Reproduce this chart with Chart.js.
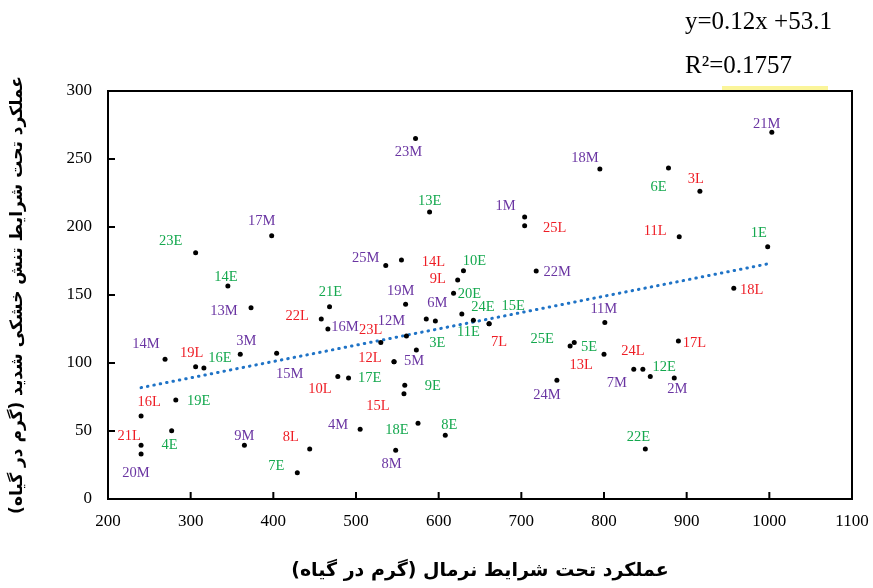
<!DOCTYPE html>
<html>
<head>
<meta charset="utf-8">
<script src="https://cdn.jsdelivr.net/npm/chart.js@4.4.1/dist/chart.umd.min.js"></script>
<style>
    body { margin: 0; background: #fff; }
    #wrap { position: relative; width: 873px; height: 588px; }
    .eq { position: absolute; left: 685px; font-family: 'Liberation Serif', serif; font-size: 25px; color: #000; line-height: 1; }
    #marca { position: absolute; left: 722px; top: 86px; width: 106px; height: 4px; background: #fbf59a; }
</style>
</head>
<body>
<div id="wrap">
    <canvas id="chartDispersion" width="873" height="588"></canvas>
    <div class="eq" style="top:8px">y=0.12x +53.1</div>
    <div class="eq" style="top:52px">R²=0.1757</div>
    <div id="marca"></div>
</div>
<script>
// genotipos (etiqueta de cada punto)
const genotipos = ['21M','23M','18M','6E','3L','13E','1M','25L','17M','11L','1E','23E','25M','14L','14E','22M','10E','9L','20E','21E',
    '19M','18L','6M','','24E','11E','7L','15E','22L','13M','11M','16M','23L','12M','3E','14M','3M','19L','16E','15M',
    '12L','5M','25E','13L','5E','7M','24L','12E','2M','17L','10L','17E','16L','19E','9E','15L','24M','4M','18E','8E',
    '21L','20M','4E','9M','8L','22E','7E','8M'];

// rendimiento en condiciones normales (eje x)
const rendNormal = [1003, 572, 795, 878, 916, 589, 704, 704, 398, 891, 998, 306, 536, 555, 345, 718, 630, 623, 618, 468,
    560, 957, 585, 596, 628, 642, 661, 661, 458, 373, 801, 466, 530, 561, 573, 269, 360, 306, 316, 404,
    546, 546, 759, 764, 800, 836, 847, 856, 885, 890, 478, 491, 240, 282, 559, 558, 743, 505, 575, 608,
    240, 240, 277, 365, 444, 850, 429, 548];

// rendimiento bajo estrés severo (eje y)
const rendEstres = [269.6, 265, 242.6, 243.4, 226.2, 211, 207.4, 201, 193.6, 192.9, 185.5, 181.1, 171.6, 175.7, 156.6, 167.6, 167.9, 161, 151.2, 141.4,
    143.2, 154.9, 132.4, 130.9, 136, 131.4, 128.9, 128.9, 132.4, 140.7, 129.7, 125, 115, 119.9, 109.6, 102.7, 106.4, 97.3, 96.3, 107.1,
    101, 101, 112.5, 115, 106.4, 95.4, 95.4, 90, 89, 116.2, 90, 89, 61, 72.8, 83.6, 77.4, 87.3, 51.2, 55.7, 46.8,
    39.5, 33.1, 50.2, 39.5, 36.8, 36.8, 19.3, 35.8];

// recta de regresion
const pendiente = 0.12;
const intercepto = 53.1;

const ticksX = [200, 300, 400, 500, 600, 700, 800, 900, 1000, 1100];
const ticksY = [0, 50, 100, 150, 200, 250, 300];

const tituloX = '\u202Bعملکرد تحت شرایط نرمال (گرم در گیاه)\u202C';
const tituloY = '\u202Bعملکرد تحت شرایط تنش خشکی شدید (گرم در گیاه)\u202C';

// desplazamiento de cada etiqueta respecto a su punto, en pixeles
const desplazamiento = {
    '21M':[-5,-8], '23M':[-7,14], '18M':[-15,-11], '6E':[-10,19], '3L':[-4,-12], '13E':[0,-11], '1M':[-19,-11], '25L':[30,3],
    '17M':[-10,-15], '11L':[-24,-5], '1E':[-9,-14], '23E':[-25,-12], '25M':[-20,-7], '14L':[32,2], '14E':[-2,-9], '22M':[21,1],
    '10E':[11,-9], '9L':[-20,-1], '20E':[16,1], '21E':[1,-15], '19M':[-5,-13], '18L':[18,2], '6M':[11,-16], '24E':[21,-7],
    '11E':[-5,12], '7L':[10,18], '15E':[24,-18], '22L':[-24,-3], '13M':[-27,4], '11M':[-1,-13], '16M':[17,-2], '23L':[-10,-12],
    '12M':[-15,-15], '3E':[21,-7], '14M':[-19,-15], '3M':[6,-13], '19L':[-4,-13], '16E':[16,-10], '15M':[13,21], '12L':[-24,-3],
    '5M':[20,0], '25E':[-28,-7], '13L':[7,23], '5E':[-15,-7], '7M':[-17,14], '24L':[-10,-18], '12E':[14,-9], '2M':[3,11],
    '17L':[16,2], '10L':[-18,13], '17E':[21,0], '16L':[8,-14], '19E':[23,1], '9E':[28,1], '15L':[-26,12], '24M':[-10,15],
    '4M':[-22,-4], '18E':[-21,7], '8E':[4,-10], '21L':[-12,-9], '20M':[-5,19], '4E':[-2,14], '9M':[0,-9], '8L':[-19,-12],
    '22E':[-7,-12], '7E':[-21,-7], '8M':[-4,14]
};

const colorGrupo = { E: '#14a84e', L: '#ee1d25', M: '#6a35a2' };

const puntos = rendNormal.map((x, i) => ({ x: x, y: rendEstres[i] }));
const xMin = Math.min(...rendNormal);
const xMax = Math.max(...rendNormal);
const recta = [xMin, xMax].map(x => ({ x: x, y: pendiente * x + intercepto }));

// etiquetas de genotipo junto a cada punto
const pluginEtiquetas = {
    id: 'etiquetas',
    afterDatasetsDraw(chart) {
        const ctx = chart.ctx;
        const meta = chart.getDatasetMeta(0);
        ctx.save();
        ctx.font = '14.5px "Liberation Serif", serif';
        ctx.textAlign = 'center';
        ctx.textBaseline = 'middle';
        meta.data.forEach((p, i) => {
            const nombre = genotipos[i];
            if (!nombre) return;
            const d = desplazamiento[nombre] || [0, -10];
            ctx.fillStyle = colorGrupo[nombre.slice(-1)];
            ctx.fillText(nombre, p.x + d[0], p.y + d[1]);
        });
        ctx.restore();
    }
};

// marco completo del area de trazado y marcas de division hacia dentro
const pluginMarco = {
    id: 'marco',
    afterDraw(chart) {
        const { ctx, chartArea: a, scales } = chart;
        ctx.save();
        ctx.strokeStyle = '#000';
        ctx.lineWidth = 2;
        ctx.strokeRect(a.left, a.top, a.right - a.left, a.bottom - a.top);
        ctx.beginPath();
        ticksX.forEach(v => {
            const px = scales.x.getPixelForValue(v);
            ctx.moveTo(px, a.bottom);
            ctx.lineTo(px, a.bottom - 7);
        });
        ticksY.forEach(v => {
            const py = scales.y.getPixelForValue(v);
            ctx.moveTo(a.left, py);
            ctx.lineTo(a.left + 7, py);
        });
        ctx.stroke();
        ctx.restore();
    }
};

new Chart(document.getElementById('chartDispersion'), {
    type: 'scatter',
    data: {
        datasets: [{
            data: puntos,
            backgroundColor: '#000',
            borderColor: '#000',
            pointRadius: 2.5,
            pointBorderWidth: 0
        }, {
            data: recta,
            showLine: true,
            borderColor: '#1f73c6',
            borderWidth: 3,
            borderDash: [0.5, 6],
            borderCapStyle: 'round',
            pointRadius: 0
        }]
    },
    options: {
        responsive: false,
        animation: false,
        layout: { padding: { left: 0, right: 0, top: 91, bottom: 0 } },
        plugins: { legend: { display: false }, tooltip: { enabled: false } },
        scales: {
            x: {
                type: 'linear',
                min: 200, max: 1100,
                afterFit: s => { s.height = 89; s.paddingRight = 21; s.paddingLeft = 0; },
                afterBuildTicks: s => { s.ticks = ticksX.map(v => ({ value: v })); },
                grid: { drawOnChartArea: false, drawTicks: false },
                border: { color: '#000', width: 2 },
                ticks: {
                    color: '#000', padding: 12,
                    font: { family: 'Liberation Serif', size: 17 },
                    callback: v => String(v)
                },
                title: {
                    display: true, text: tituloX, color: '#000',
                    padding: { top: 0, bottom: 6 },
                    font: { family: 'DejaVu Sans', size: 19, weight: 'bold' }
                }
            },
            y: {
                type: 'linear',
                min: 0, max: 300,
                afterFit: s => { s.width = 108; },
                afterBuildTicks: s => { s.ticks = ticksY.map(v => ({ value: v })); },
                grid: { drawOnChartArea: false, drawTicks: false },
                border: { color: '#000', width: 2 },
                ticks: {
                    color: '#000', padding: 16,
                    font: { family: 'Liberation Serif', size: 17 },
                    callback: v => String(v)
                },
                title: {
                    display: true, text: tituloY, color: '#000',
                    padding: { top: 7, bottom: 0 },
                    font: { family: 'DejaVu Sans', size: 17, weight: 'bold' }
                }
            }
        }
    },
    plugins: [pluginEtiquetas, pluginMarco]
});
</script>
</body>
</html>
